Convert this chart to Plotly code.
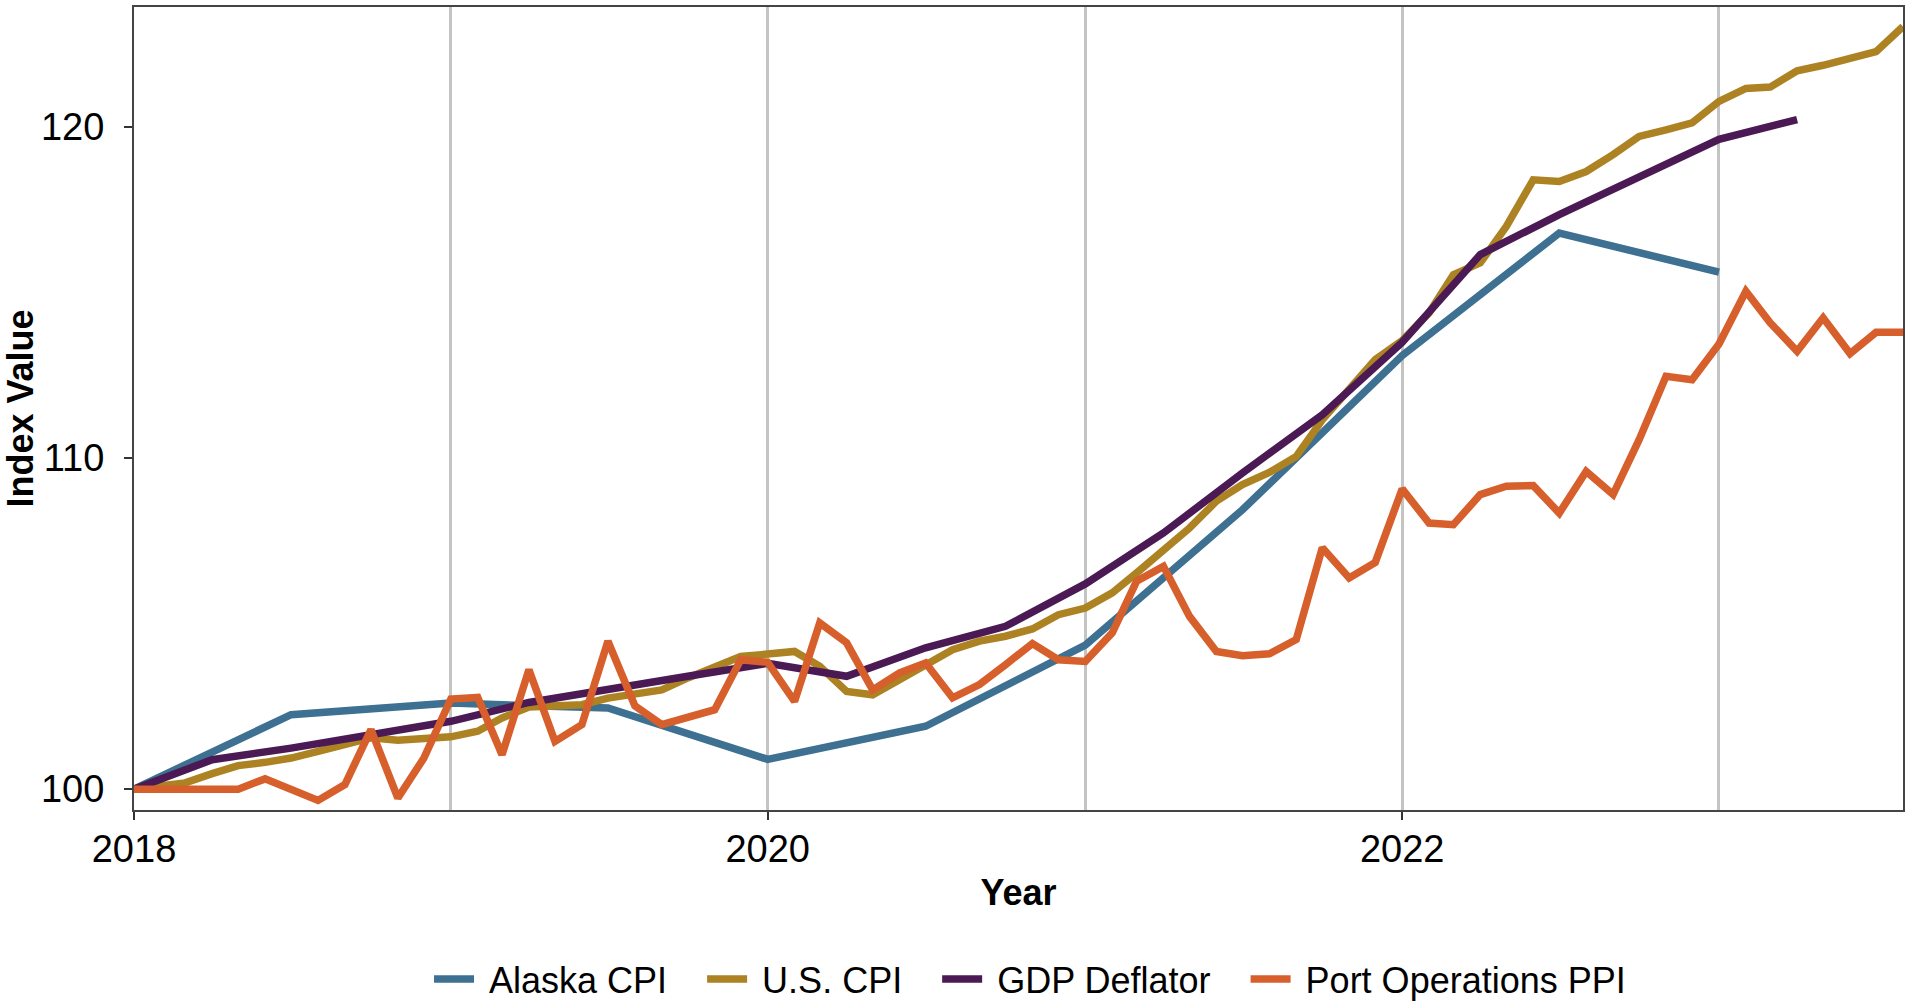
import plotly.graph_objects as go
import pandas as pd

# ---------------- data ----------------
monthly_dates = pd.date_range("2018-01-01", "2023-08-01", freq="MS")
quarterly_dates = pd.date_range("2018-01-01", "2023-04-01", freq="QS")
semiannual_dates = pd.date_range("2018-01-01", "2023-01-01", freq="6MS")

alaska_cpi = [100.0, 102.25, 102.6, 102.45, 100.9, 101.9, 104.35, 108.44, 113.1, 116.8, 115.62]

us_cpi = [
    100.0, 100.07, 100.19, 100.47, 100.71, 100.81, 100.94, 101.14, 101.34, 101.55, 101.48, 101.52,
    101.58, 101.75, 102.15, 102.48, 102.52, 102.55, 102.75, 102.85, 103.0, 103.36, 103.66, 104.01,
    104.08, 104.16, 103.71, 102.95, 102.85, 103.31, 103.81, 104.21, 104.47, 104.62, 104.84, 105.27,
    105.47, 105.93, 106.53, 107.24, 107.89, 108.7, 109.2, 109.57, 110.05, 111.16, 112.07, 112.98,
    113.55, 114.39, 115.54, 115.9, 117.0, 118.41, 118.36, 118.66, 119.17, 119.72, 119.92, 120.13,
    120.78, 121.17, 121.21, 121.7, 121.87, 122.08, 122.28, 123.04,
]

gdp_deflator = [
    100.0, 100.89, 101.24, 101.65,
    102.05, 102.62, 103.03, 103.41,
    103.8, 103.41, 104.27, 104.92,
    106.2, 107.74, 109.55, 111.31,
    113.5, 116.15, 117.36, 118.47,
    119.63, 120.23,
]

port_ppi = [
    100.0, 100.0, 100.0, 100.0, 100.0, 100.31, 99.98, 99.66, 100.14, 101.8, 99.73, 100.94,
    102.72, 102.77, 101.04, 103.61, 101.44, 101.95, 104.47, 102.52, 101.95, 102.15, 102.4, 103.91,
    103.83, 102.65, 105.02, 104.42, 103.0, 103.51, 103.81, 102.76, 103.16, 103.76, 104.4, 103.91,
    103.86, 104.72, 106.28, 106.73, 105.22, 104.16, 104.03, 104.09, 104.52, 107.29, 106.38, 106.85,
    109.07, 108.04, 107.99, 108.9, 109.15, 109.17, 108.34, 109.6, 108.9, 110.56, 112.47, 112.37,
    113.45, 115.04, 114.09, 113.23, 114.24, 113.16, 113.8, 113.8,
]

series_names = ["Alaska CPI", "U.S. CPI", "GDP Deflator", "Port Operations PPI"]
series_colors = ["#3D7091", "#AD8223", "#4B1A55", "#D65F2B"]

x_major_ticks = ["2018-01-01", "2020-01-01", "2022-01-01"]
x_major_labels = ["2018", "2020", "2022"]
x_minor_grid = ["2019-01-01", "2021-01-01", "2023-01-01"]
y_ticks = [100, 110, 120]

FONT = "Liberation Sans Narrow, Arial Narrow, Liberation Sans, Arial, sans-serif"
FS = 36
TICK_FS = 38

# ---------------- figure ----------------
fig = go.Figure()
for name, color, xs, ys in zip(
    series_names,
    series_colors,
    [semiannual_dates, monthly_dates, quarterly_dates, monthly_dates],
    [alaska_cpi, us_cpi, gdp_deflator, port_ppi],
):
    fig.add_trace(go.Scatter(x=xs, y=ys, mode="lines",
                             name="\u00a0" + name + "\u00a0\u00a0\u00a0",
                             line=dict(color=color, width=7.5)))

fig.update_layout(
    width=1905, height=1003,
    margin=dict(l=134, r=2, t=7, b=193, autoexpand=False),
    paper_bgcolor="white", plot_bgcolor="white",
    font=dict(family=FONT, size=FS, color="black"),
    showlegend=True,
    legend=dict(orientation="h", x=0.515, xanchor="center",
                yref="container", y=1 - 979 / 1003, yanchor="middle",
                font=dict(size=FS), itemwidth=40, tracegroupgap=0),
)
fig.update_xaxes(
    type="date",
    range=["2018-01-01", "2023-08-01"],
    tickvals=x_major_ticks, ticktext=x_major_labels,
    ticks="outside", ticklen=8, tickwidth=2, tickcolor="#333333",
    ticklabelstandoff=-4,
    showgrid=True, gridcolor="#C4C4C4", gridwidth=2.5,
    minor=dict(tickvals=x_minor_grid, showgrid=True, gridcolor="#C4C4C4", gridwidth=2.5, ticks=""),
    showline=True, linecolor="#444444", linewidth=2, mirror=True,
    zeroline=False,
    title=dict(text="<b>Year</b>", font=dict(size=FS), standoff=11),
    tickfont=dict(size=TICK_FS),
)
fig.update_yaxes(
    range=[99.37, 123.63],
    tickvals=y_ticks,
    ticks="outside", ticklen=8, tickwidth=2, tickcolor="#333333",
    ticklabelstandoff=12,
    showgrid=False, zeroline=False,
    showline=True, linecolor="#444444", linewidth=2, mirror=True,
    title=dict(text="<b>Index Value</b>", font=dict(size=FS), standoff=0),
    tickfont=dict(size=TICK_FS),
)

fig.write_html("out.html", config={"displayModeBar": False},
               post_script="document.body.style.margin='0';")
